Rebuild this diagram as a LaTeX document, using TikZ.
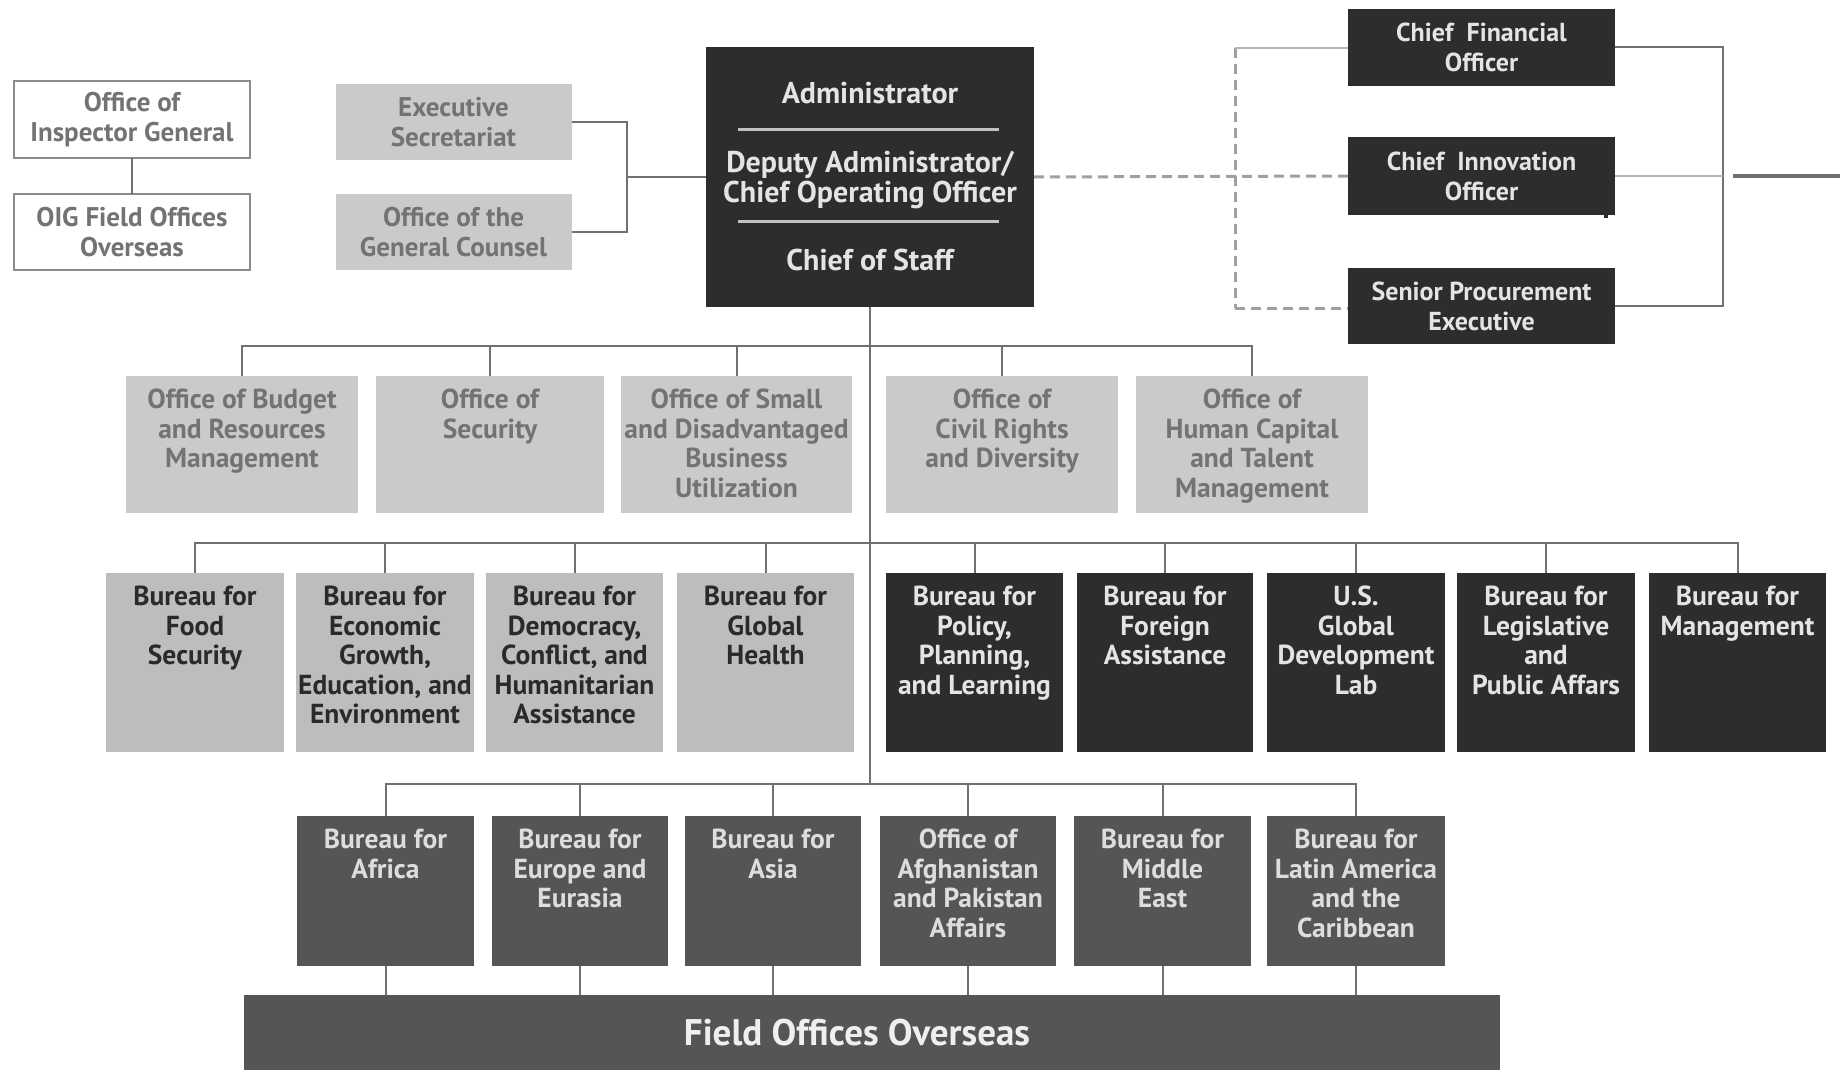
\documentclass[tikz,border=0pt]{standalone}
\usepackage{fontspec}
\setmainfont{PT Sans}
\usetikzlibrary{calc}
\definecolor{dk}{HTML}{2D2D2D}
\definecolor{dktext}{HTML}{E4E4E4}
\definecolor{lt}{HTML}{CACACA}
\definecolor{lttext}{HTML}{737373}
\definecolor{md}{HTML}{BDBDBD}
\definecolor{mdtext}{HTML}{2A2A2A}
\definecolor{rf}{HTML}{555555}
\definecolor{rftext}{HTML}{DDDDDD}
\definecolor{lnc}{HTML}{707070}
\definecolor{dashc}{HTML}{A0A0A0}
\definecolor{obord}{HTML}{8C8C8C}
\newcommand{\tpb}[3]{\parbox[c][#1pt][t]{#2pt}{\centering\vspace*{13pt}#3}}
\begin{document}
\begin{tikzpicture}[x=1pt,y=-1pt,
  base/.style={inner sep=0pt, outer sep=0pt, align=center, font=\bfseries\fontsize{27.5}{29.5}\selectfont},
  topc/.style={base, minimum width=236pt, minimum height=76pt, font=\bfseries\fontsize{27}{30}\selectfont},
  whitebox/.style={topc, fill=white, draw=obord, line width=2pt, text=lttext},
  greybox/.style={topc, fill=lt, text=lttext},
  darkbox/.style={base, fill=dk, text=dktext, minimum width=267pt, minimum height=77pt, font=\bfseries\fontsize{26}{30}\selectfont},
  rtwo/.style={base, fill=lt, text=lttext},
  rthreea/.style={base, fill=md, text=mdtext},
  rthreeb/.style={base, fill=dk, text=dktext},
  rfour/.style={base, fill=rf, text=rftext},
  conn/.style={draw=lnc, line width=2pt},
  dashline/.style={draw=dashc, line width=3pt, dash pattern=on 10pt off 6pt},
  lightline/.style={draw=dashc!80, line width=2pt},
  rulel/.style={draw=dktext!85!black, line width=3pt}
]
\useasboundingbox[fill=white] (0,0) rectangle (1840,1073);

% top left
\node[whitebox] (oig) at (132,119.5) {Office of\\Inspector General};
\node[whitebox] (oigf) at (132,232) {OIG Field Offices\\Overseas};
\node[greybox] (exec) at (453.5,122) {Executive\\Secretariat};
\node[greybox] (ogc) at (453.5,232) {Office of the\\General Counsel};

% administrator
\node[base, fill=dk, text=dktext, minimum width=328pt, minimum height=260pt,
      font=\bfseries\fontsize{30}{30}\selectfont] (admin) at (870,177)
  {Administrator\\[39pt]Deputy Administrator/\\Chief Operating Officer\\[38pt]Chief of Staff};
\draw[rulel] ($(admin.center)+(-132,-48)$) -- ($(admin.center)+(129,-48)$);
\draw[rulel] ($(admin.center)+(-132,44)$) -- ($(admin.center)+(129,44)$);

% right boxes
\node[darkbox] (cfo) at (1481.5,47.5) {Chief\ \ Financial\\Officer};
\node[darkbox, minimum height=78pt] (cio) at (1481.5,176) {Chief\ \ Innovation\\Officer};
\node[darkbox, minimum height=76pt] (spe) at (1481.5,306) {Senior Procurement\\Executive};
\draw[draw=dk, line width=4pt] (1606,158) -- (1606,218);

% row 2
\node[rtwo] (obrm) at (242,444.5) {\tpb{137}{232}{Office of Budget\\and Resources\\Management}};
\node[rtwo] (osec) at (490,444.5) {\tpb{137}{228}{Office of\\Security}};
\node[rtwo] (osdbu) at (736.5,444.5) {\tpb{137}{231}{Office of Small\\and Disadvantaged\\Business\\Utilization}};
\node[rtwo] (ocrd) at (1002,444.5) {\tpb{137}{232}{Office of\\Civil Rights\\and Diversity}};
\node[rtwo] (ohctm) at (1252,444.5) {\tpb{137}{232}{Office of\\Human Capital\\and Talent\\Management}};

% row 3
\node[rthreea] (bfs) at (195,662.5) {\tpb{179}{178}{Bureau for\\Food\\Security}};
\node[rthreea] (begee) at (385,662.5) {\tpb{179}{178}{Bureau for\\Economic\\Growth,\\Education, and\\Environment}};
\node[rthreea] (bdcha) at (574.5,662.5) {\tpb{179}{177}{Bureau for\\Democracy,\\Conflict, and\\Humanitarian\\Assistance}};
\node[rthreea] (bgh) at (765.5,662.5) {\tpb{179}{177}{Bureau for\\Global\\Health}};
\node[rthreeb] (bppl) at (974.5,662.5) {\tpb{179}{177}{Bureau for\\Policy,\\Planning,\\and Learning}};
\node[rthreeb] (bfa) at (1165,662.5) {\tpb{179}{176}{Bureau for\\Foreign\\Assistance}};
\node[rthreeb] (gdl) at (1356,662.5) {\tpb{179}{178}{U.S.\\Global\\Development\\Lab}};
\node[rthreeb] (blpa) at (1546,662.5) {\tpb{179}{178}{Bureau for\\Legislative\\and\\Public Affars}};
\node[rthreeb] (bm) at (1737.5,662.5) {\tpb{179}{177}{Bureau for\\Management}};

% row 4
\node[rfour] (baf) at (385.5,891) {\tpb{150}{177}{Bureau for\\Africa}};
\node[rfour] (bee) at (580,891) {\tpb{150}{176}{Bureau for\\Europe and\\Eurasia}};
\node[rfour] (bas) at (773,891) {\tpb{150}{176}{Bureau for\\Asia}};
\node[rfour] (oapa) at (968,891) {\tpb{150}{176}{Office of\\Afghanistan\\and Pakistan\\Affairs}};
\node[rfour] (bme) at (1162.5,891) {\tpb{150}{177}{Bureau for\\Middle\\East}};
\node[rfour] (blac) at (1356,891) {\tpb{150}{178}{Bureau for\\Latin America\\and the\\Caribbean}};

% field offices
\node[base, fill=rf, text=dktext!60!white, minimum width=1256pt, minimum height=75pt,
      font=\bfseries\fontsize{37}{40}\selectfont] (field) at (872,1032.5) {\kern-30pt Field Offices Overseas};

% connectors
\coordinate (btwo) at (870,346);
\coordinate (bthree) at (870,543);
\coordinate (bfour) at (870,784);
\draw[conn] (admin.south) -- (bfour);
\foreach \n in {obrm,osec,osdbu,ocrd,ohctm} \draw[conn] (\n.north) |- (btwo);
\foreach \n in {bfs,begee,bdcha,bgh,bppl,bfa,gdl,blpa,bm} \draw[conn] (\n.north) |- (bthree);
\foreach \n in {baf,bee,bas,oapa,bme,blac} {
  \draw[conn] (\n.north) |- (bfour);
  \draw[conn] (\n.south) -- (\n.south |- field.north);
}
\draw[conn] (oig.south) -- (oigf.north);
\coordinate (lb) at (627,177);
\draw[conn] (exec.east) -| (lb);
\draw[conn] (ogc.east) -| (lb);
\draw[conn] (lb) -- (admin.west);
\coordinate (rb) at (1723,176);
\draw[conn] (cfo.east) -| (rb);
\draw[conn] (spe.east) -| (rb);
\draw[lightline] (cio.east) -- (rb);
\coordinate (reA) at (1733,176);
\coordinate (reB) at (1840,176);
\draw[draw=lnc, line width=4pt] (reA) -- (reB);
\coordinate (dt) at (1235,48);
\coordinate (db) at (1235,308);
\draw[dashline] (admin.east) -- (cio.west);
\draw[dashline] (dt) -- (db);
\draw[lightline] (dt) -- (cfo.west |- dt);
\draw[dashline] (db) -- (spe.west |- db);
\end{tikzpicture}
\end{document}
